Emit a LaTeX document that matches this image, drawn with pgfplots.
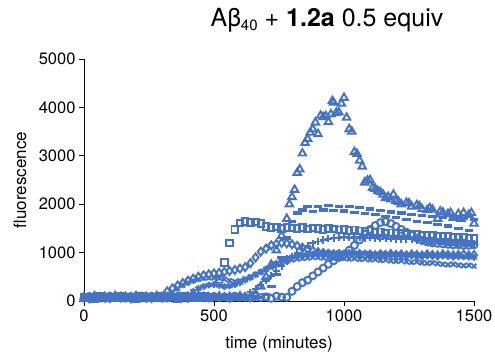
\documentclass[border=0pt]{standalone}
\usepackage{pgfplots}
\usepackage{pgfplotstable}
\pgfplotsset{compat=1.18}
\usepackage{fontspec}
\setmainfont{TeX Gyre Heros}
\definecolor{xl}{RGB}{68,114,196}

\pgfplotstableread{
t tri sq dash circ dia xm star plus
0 75 70 100 60 85 80 95 55
20 60 85 80 95 55 75 70 100
40 95 55 75 70 100 60 85 80
60 70 100 60 85 80 95 55 75
80 85 80 95 55 75 70 100 60
100 55 75 70 100 60 85 80 95
120 100 60 85 80 95 55 75 70
140 80 95 55 75 70 100 60 85
160 75 70 100 60 85 80 95 55
180 60 85 80 95 55 75 70 100
200 95 55 75 70 100 60 85 80
220 70 100 60 85 80 95 55 75
240 85 80 95 55 75 70 100 60
260 55 75 70 100 60 85 80 95
280 100 60 85 80 95 55 75 70
300 80 95 55 75 70 100 60 85
320 75 70 100 60 200 80 95 55
340 60 85 80 95 260 180 70 100
360 95 55 75 70 320 260 85 80
380 70 100 60 85 370 330 55 75
400 85 80 95 55 420 380 120 60
420 55 75 70 100 460 420 200 95
440 100 60 85 80 500 450 260 70
460 80 95 55 75 530 470 300 85
480 75 70 100 60 550 480 330 55
500 60 85 80 95 570 480 340 100
520 95 450 75 70 580 470 320 80
540 70 800 60 85 600 450 300 75
560 85 1200 95 55 620 420 310 60
580 55 1480 70 100 640 400 340 95
600 100 1610 85 80 670 420 380 70
620 80 1640 55 75 700 460 430 120
640 75 1620 100 60 780 500 480 180
660 150 1630 80 95 900 550 540 250
680 300 1600 75 70 1020 600 600 330
700 500 1540 130 85 1080 650 660 420
720 750 1520 300 55 1150 700 720 520
740 1050 1530 550 100 1180 750 780 620
760 1350 1500 900 80 1200 790 840 720
780 1700 1520 1300 75 1190 820 880 820
800 2150 1510 1650 200 1170 850 910 920
820 2650 1500 1820 300 1140 870 930 1000
840 3050 1520 1880 380 1100 880 950 1080
860 3350 1490 1950 430 1070 890 960 1140
880 3550 1510 1850 520 1040 900 970 1190
900 3450 1500 1960 600 1010 900 980 1230
920 3800 1480 1880 680 990 890 990 1260
940 3700 1500 1970 760 970 900 1000 1290
960 4100 1490 1870 830 960 880 990 1300
980 3900 1470 1960 900 950 890 1000 1310
1000 4200 1480 1860 960 940 880 990 1320
1020 3550 1460 1950 1050 960 870 1000 1310
1040 3080 1470 1830 1150 950 880 990 1320
1060 2900 1450 1930 1260 970 860 980 1310
1080 2450 1440 1800 1380 950 870 990 1300
1100 2500 1450 1900 1480 960 850 980 1310
1120 2320 1420 1780 1560 940 860 970 1300
1140 2250 1430 1870 1620 960 840 980 1290
1160 2130 1400 1750 1640 950 850 970 1300
1180 2100 1410 1840 1600 970 830 960 1290
1200 2070 1390 1720 1540 950 820 970 1280
1220 2000 1400 1820 1480 960 830 960 1280
1240 2030 1380 1680 1420 940 810 950 1270
1260 1950 1370 1790 1360 960 800 960 1270
1280 1980 1380 1650 1300 950 810 950 1260
1300 1900 1360 1770 1250 940 790 940 1250
1320 1880 1350 1620 1220 960 780 950 1250
1340 1890 1360 1740 1200 950 790 940 1240
1360 1700 1340 1580 1190 940 770 930 1230
1380 1830 1330 1720 1180 960 760 940 1230
1400 1800 1340 1550 1170 950 750 930 1220
1420 1720 1320 1710 1160 940 760 920 1210
1440 1800 1310 1500 1160 950 740 930 1200
1460 1820 1320 1700 1150 960 730 910 1200
1480 1780 1300 1460 1150 940 740 920 1190
1500 1600 1290 1690 1160 950 720 900 1180
}\data

\pgfplotstableread{
t tri
790 2000
810 2300
830 2720
850 3270
870 3480
890 3690
910 3830
930 3820
950 3860
955 4130
970 3890
990 4080
1010 3790
1030 3500
1050 3040
1070 2780
1090 2490
1110 2340
1130 2270
1150 2200
1170 2150
1190 2200
1210 2050
1250 2020
1290 1960
1330 1920
1370 1850
1410 1820
1450 1700
1490 1820
}\tripeak

\begin{document}
\begin{tikzpicture}
\begin{axis}[name=ax, scale only axis, width=390pt, height=242pt,
  xmin=0, xmax=1500, ymin=0, ymax=5000,
  axis lines*=left, axis line style={-, black, line width=0.9pt},
  tick align=outside, major tick length=5pt,
  tick style={black, line width=0.9pt},
  xtick={0,500,1000,1500}, ytick={0,1000,2000,3000,4000,5000},
  /pgf/number format/assume math mode=true,
  /pgf/number format/set thousands separator={},
  ticklabel style={font=\fontsize{16.5}{19}\selectfont},
  xlabel={time (minutes)}, ylabel={fluorescence},
  label style={font=\fontsize{17}{20}\selectfont},
  xlabel style={at={(axis description cs:0.5,-0.178)}, anchor=center},
  ylabel style={at={(axis description cs:-0.164,0.5)}, anchor=center},
  title={Aβ\raisebox{-0.35ex}{\fontsize{15}{17}\selectfont 40} + \textbf{1.2a} 0.5 equiv},
  title style={at={(axis description cs:0.623,1.136)}, anchor=center, font=\fontsize{25}{28}\selectfont},
  clip=false,
  every axis plot/.append style={only marks, color=xl, mark options={solid, line width=1.9pt}},
]
\addplot[mark=triangle, mark size=4.3pt] table[x=t, y=tri] {\data};
\addplot[mark=triangle, mark size=4.3pt] table[x=t, y=tri] {\tripeak};
\addplot[mark=square, mark size=3.3pt] table[x=t, y=sq] {\data};
\addplot[mark=-, mark size=4.3pt, mark options={line width=3.2pt}] table[x=t, y=dash] {\data};
\addplot[mark=o, mark size=3.5pt] table[x=t, y=circ] {\data};
\addplot[mark=diamond, mark size=4pt] table[x=t, y=dia] {\data};
\addplot[mark=x, mark size=3.4pt] table[x=t, y=xm] {\data};
\addplot[mark=asterisk, mark size=3.4pt] table[x=t, y=star] {\data};
\addplot[mark=+, mark size=3.6pt] table[x=t, y=plus] {\data};
\end{axis}
\pgfresetboundingbox
\path[shift={(ax.south west)}] (-84pt,-62pt) rectangle (411pt,301pt);
\end{tikzpicture}
\end{document}
